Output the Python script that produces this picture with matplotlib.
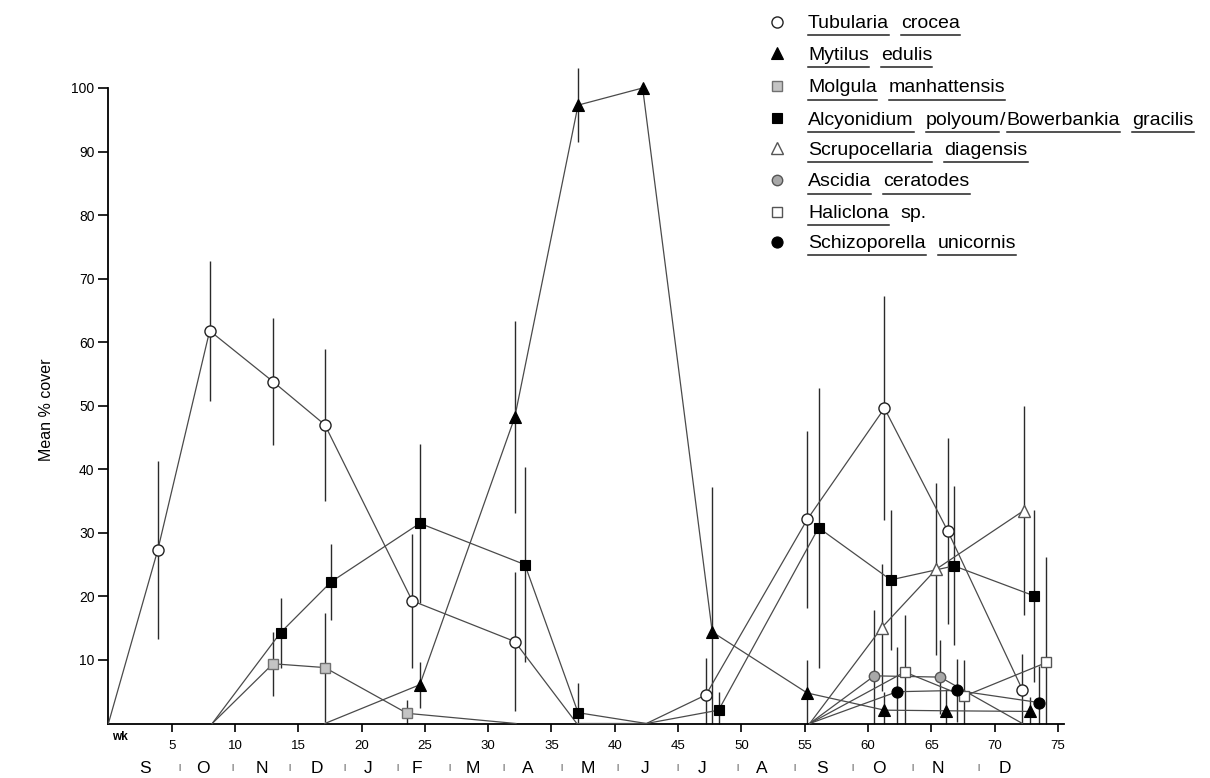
import numpy as np
import matplotlib.pyplot as plt

plt.rcParams['font.family'] = ['Liberation Sans', 'DejaVu Sans']

# Wochen (x), mittlere Bedeckung (y) und Standardabweichung je Art
tub_wk = [0, 3.9, 8.0, 13.0, 17.1, 24.0, 32.1, 37.0, 42.5, 47.2, 55.2, 61.3, 66.3, 72.2]
tub_cov = [0, 27.3, 61.8, 53.8, 47.0, 19.3, 12.9, 0, 0, 4.5, 32.1, 49.6, 30.3, 5.3]
tub_sd = [0, 14.0, 11.0, 10.0, 12.0, 10.5, 10.9, 0, 0, 5.8, 14.0, 17.6, 14.6, 5.7]

myt_wk = [17.1, 24.6, 32.1, 37.1, 42.2, 47.7, 55.2, 61.3, 66.2, 72.8]
myt_cov = [0, 6.1, 48.2, 97.3, 100.0, 14.4, 4.8, 2.1, 2.0, 1.9]
myt_sd = [0, 3.6, 15.1, 5.8, 0, 22.8, 5.2, 2.9, 3.4, 2.3]

mol_wk = [8.2, 13.0, 17.1, 23.6, 32.2]
mol_cov = [0, 9.4, 8.8, 1.6, 0]
mol_sd = [0, 5.0, 8.6, 2.1, 0]

alc_wk = [8.2, 13.6, 17.6, 24.6, 32.9, 37.1, 42.5, 48.2, 56.1, 61.8, 66.8, 73.1]
alc_cov = [0, 14.3, 22.3, 31.5, 25.0, 1.7, 0, 2.1, 30.8, 22.6, 24.8, 20.1]
alc_sd = [0, 5.5, 6.0, 12.5, 15.3, 4.6, 0, 2.9, 22.0, 11.0, 12.5, 13.5]

scr_wk = [55.4, 61.1, 65.4, 72.3]
scr_cov = [0, 15.1, 24.3, 33.5]
scr_sd = [0, 10.0, 13.5, 16.5]

asc_wk = [55.4, 60.5, 65.7, 72.2]
asc_cov = [0, 7.5, 7.3, 0]
asc_sd = [0, 10.4, 5.8, 0]

hal_wk = [55.4, 62.9, 67.6, 74.1]
hal_cov = [0, 8.1, 4.3, 9.6]
hal_sd = [0, 9.0, 5.7, 16.6]

sch_wk = [55.4, 62.3, 67.0, 73.5]
sch_cov = [0, 5.0, 5.2, 3.3]
sch_sd = [0, 7.0, 4.9, 5.7]

# Legende: Wörter und ob unterstrichen
legend_words = [
    [("Tubularia", True), ("crocea", True)],
    [("Mytilus", True), ("edulis", True)],
    [("Molgula", True), ("manhattensis", True)],
    [("Alcyonidium", True), ("polyoum", True), ("/", False), ("Bowerbankia", True), ("gracilis", True)],
    [("Scrupocellaria", True), ("diagensis", True)],
    [("Ascidia", True), ("ceratodes", True)],
    [("Haliclona", True), ("sp.", False)],
    [("Schizoporella", True), ("unicornis", True)],
]

# Monate unter der Achse (Wochen-Position) und Trennstriche
months = ["S", "O", "N", "D", "J", "F", "M", "A", "M", "J", "J", "A", "S", "O", "N", "D"]
month_pos = [2.9, 7.5, 12.1, 16.5, 20.5, 24.4, 28.8, 33.1, 37.9, 42.4, 46.9, 51.6, 56.4, 60.9, 65.5, 70.8]
month_sep = [5.6, 9.8, 14.3, 18.6, 22.8, 26.9, 31.2, 35.8, 40.2, 44.9, 49.7, 54.2, 58.8, 63.5, 68.7]

W, H = 1210, 778
fig = plt.figure(figsize=(W / 100, H / 100), dpi=100)
ax = fig.add_axes([108.4 / W, (H - 723.5) / H, 955.8 / W, 667.3 / H])

styles = [
    dict(marker='o', ms=8, mfc='white', mec='#222222', mew=1.0),
    dict(marker='^', ms=8, mfc='black', mec='black', mew=0.8),
    dict(marker='s', ms=7, mfc='#c4c4c4', mec='#707070', mew=1.0),
    dict(marker='s', ms=7, mfc='black', mec='black', mew=0.8),
    dict(marker='^', ms=8, mfc='white', mec='#555555', mew=1.0),
    dict(marker='o', ms=7.5, mfc='#a8a8a8', mec='#555555', mew=1.0),
    dict(marker='s', ms=7.5, mfc='white', mec='#555555', mew=1.0),
    dict(marker='o', ms=8, mfc='black', mec='black', mew=0.8),
]

series = [
    (tub_wk, tub_cov, tub_sd),
    (myt_wk, myt_cov, myt_sd),
    (mol_wk, mol_cov, mol_sd),
    (alc_wk, alc_cov, alc_sd),
    (scr_wk, scr_cov, scr_sd),
    (asc_wk, asc_cov, asc_sd),
    (hal_wk, hal_cov, hal_sd),
    (sch_wk, sch_cov, sch_sd),
]

for (wk, cov, sd), st in zip(series, styles):
    wk = np.array(wk)
    cov = np.array(cov)
    sd = np.array(sd)
    # Fehlerbalken (unten bei 0 abgeschnitten)
    m = sd > 0
    lo = cov - np.minimum(sd, cov)
    ax.vlines(wk[m], lo[m], cov[m] + sd[m], color='#2a2a2a', lw=1.0, zorder=2, clip_on=False)
    ax.plot(wk, cov, color='#4a4a4a', lw=0.9, zorder=3, clip_on=False)
    pts = cov > 0
    ax.plot(wk[pts], cov[pts], ls='none', zorder=4, clip_on=False, **st)

ax.set_xlim(0, 75.5)
ax.set_ylim(0, 105)
ax.spines['top'].set_visible(False)
ax.spines['right'].set_visible(False)
ax.spines['left'].set_bounds(0, 100)
ax.spines['left'].set_linewidth(1.3)
ax.spines['bottom'].set_linewidth(1.3)

ax.set_xticks(range(5, 80, 5))
ax.set_yticks(range(10, 110, 10))
ax.tick_params(axis='x', length=6, width=1.2, pad=6, labelsize=9.5)
ax.tick_params(axis='y', length=7, width=1.2, pad=3, labelsize=10)
ax.set_ylabel("Mean % cover", fontsize=11.5)
ax.yaxis.set_label_coords(-0.057, 0.47)

# Monatsbuchstaben
tr = ax.get_xaxis_transform()
for lab, xp in zip(months, month_pos):
    ax.text(xp, -0.068, lab, transform=tr, ha='center', va='center', fontsize=12.5)
for xp in month_sep:
    ax.text(xp, -0.066, '|', transform=tr, ha='center', va='center', fontsize=6)

fig.text(120 / W, 1 - 737 / H, "wk", ha='center', va='center', fontsize=8.5, fontweight='bold')

# Legende oben rechts, Wörter einzeln unterstrichen
renderer = fig.canvas.get_renderer()
row_y = [21.7, 53.3, 86, 118.3, 148.3, 180, 211.7, 241.7]
fs = 14
for words, st, yy in zip(legend_words, styles, row_y):
    ax.plot([777 / W], [1 - yy / H], transform=fig.transFigure, clip_on=False, ls='none', **st)
    x = 808
    for i, (wd, ul) in enumerate(words):
        t = fig.text(x / W, 1 - (yy + 6.5) / H, wd, ha='left', va='baseline', fontsize=fs)
        bb = t.get_window_extent(renderer)
        if ul:
            yl = bb.y0 - 3
            fig.add_artist(plt.Line2D([bb.x0 / W, bb.x1 / W], [yl / H, yl / H], color='#222222', lw=1.1))
        nxt = words[i + 1][0] if i + 1 < len(words) else ''
        if wd == '/' or nxt == '/':
            x = bb.x1 + 1
        else:
            x = bb.x1 + 12

fig.savefig("out.png", dpi=100)
